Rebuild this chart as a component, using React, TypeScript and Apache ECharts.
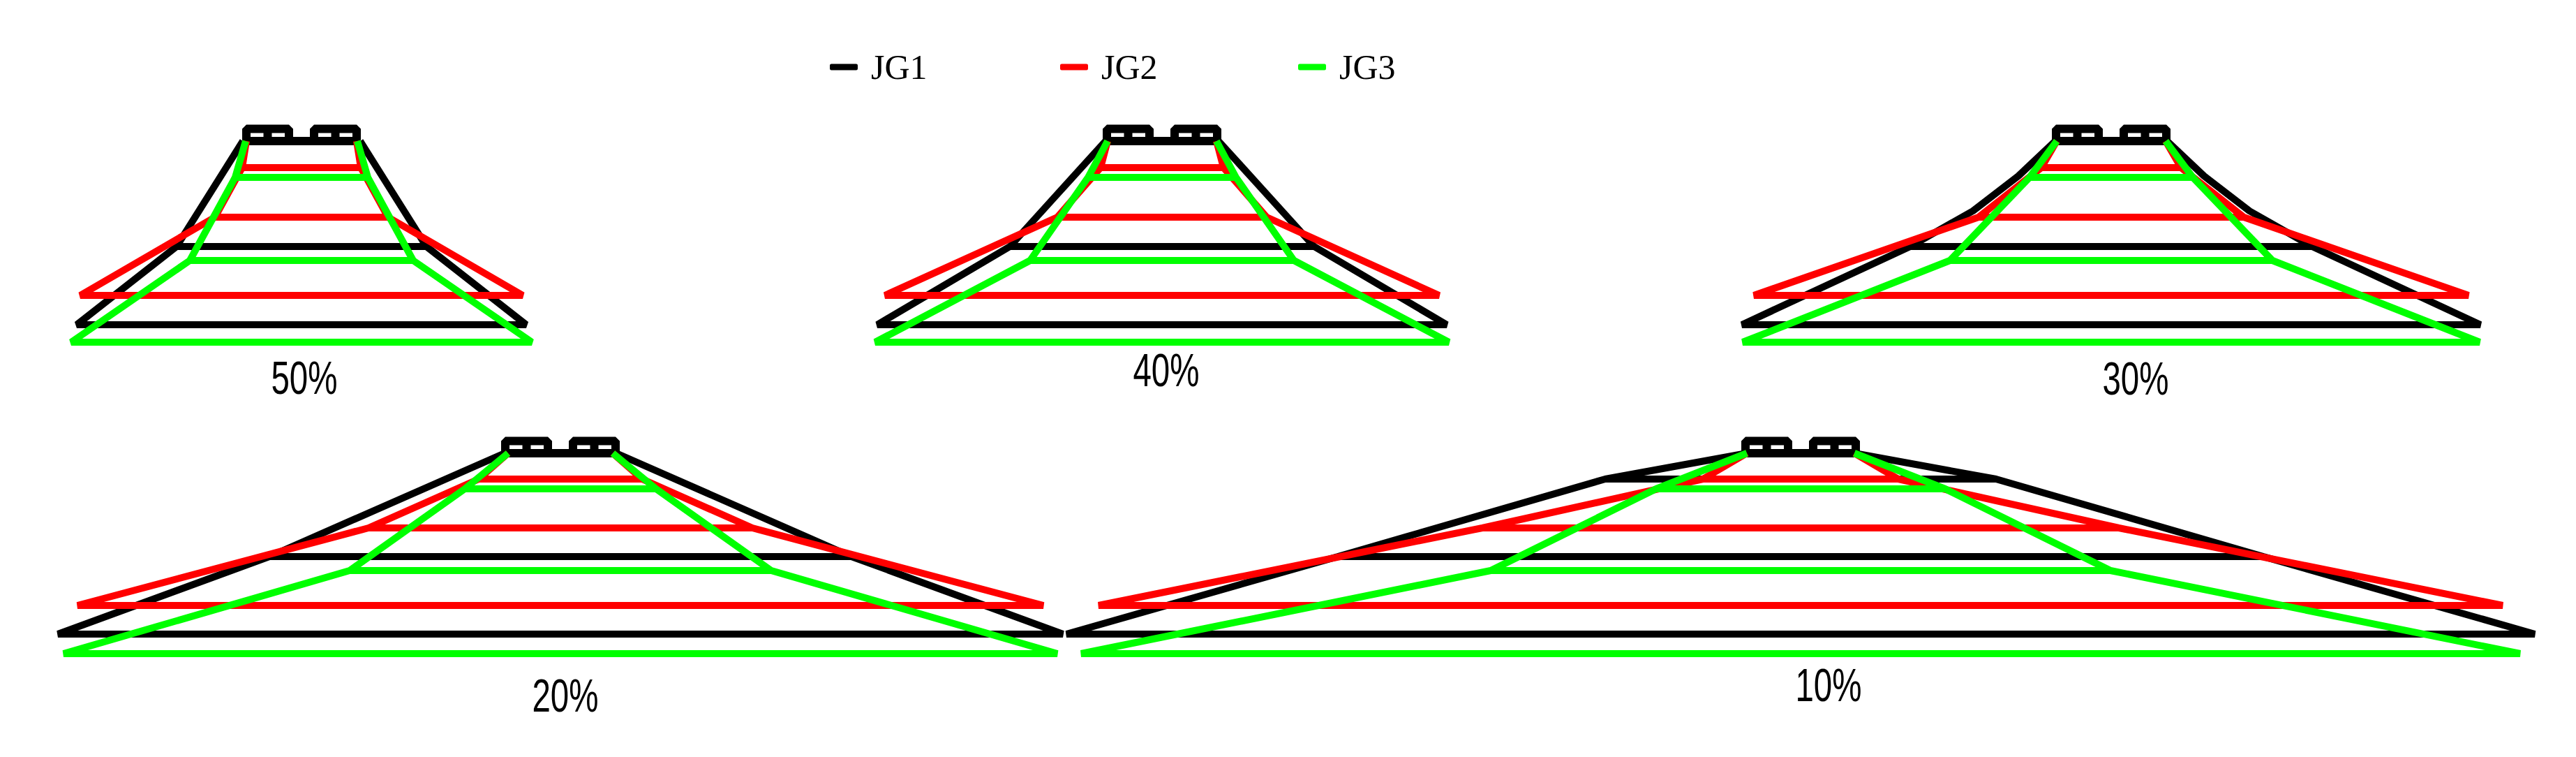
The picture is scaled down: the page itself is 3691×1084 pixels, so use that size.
import React, { useEffect, useRef } from "react";
import * as echarts from "echarts";

// ---------------- data ----------------
const panelLabels = ["50%", "40%", "30%", "20%", "10%"];
const seriesNames = ["JG1", "JG2", "JG3"];
const seriesColors = ["#000000", "#ff0000", "#00ff00"];

// profile vertices: [depth below footing base (m), half width (m), bench line (1) or not (0)]
const jg1_50 = [[0, 8.4, 0], [15.1, 17.9, 1], [26.3, 32.2, 1]];
const jg2_50 = [[0, 7.9, 0], [3.8, 8.5, 1], [10.9, 12.4, 1], [22.1, 31.7, 1]];
const jg3_50 = [[0, 8.0, 0], [5.2, 9.5, 1], [17.1, 16.0, 1], [28.8, 33.0, 1]];

const jg1_40 = [[0, 8.1, 0], [15.1, 21.8, 1], [26.3, 40.8, 1]];
const jg2_40 = [[0, 7.8, 0], [3.8, 8.8, 1], [10.9, 15.0, 1], [22.1, 39.7, 1]];
const jg3_40 = [[0, 7.8, 0], [5.2, 10.6, 1], [17.1, 18.9, 1], [28.8, 41.1, 1]];

const jg1_30 = [[0, 8.0, 0], [5.0, 13.3, 0], [10.0, 19.8, 0], [15.1, 28.8, 1], [26.3, 52.9, 1]];
const jg2_30 = [[0, 7.8, 0], [3.8, 10.0, 1], [10.9, 19.0, 1], [22.1, 51.2, 1]];
const jg3_30 = [[0, 7.8, 0], [5.2, 11.7, 1], [17.1, 23.1, 1], [28.8, 52.8, 1]];

const jg1_20 = [[0, 8.0, 0], [14.8, 41.7, 1], [25.9, 72.0, 1]];
const jg2_20 = [[0, 7.5, 0], [3.7, 11.7, 1], [10.7, 27.5, 1], [21.8, 69.2, 1]];
const jg3_20 = [[0, 7.5, 0], [5.1, 13.7, 1], [16.8, 30.2, 1], [28.7, 71.2, 1]];

const jg1_10 = [[0, 7.7, 0], [3.7, 28.0, 1], [14.8, 66.3, 1], [25.9, 105.2, 1]];
const jg2_10 = [[0, 7.7, 0], [3.7, 14.0, 1], [10.7, 45.6, 1], [21.8, 100.6, 1]];
const jg3_10 = [[0, 7.7, 0], [5.1, 20.7, 1], [16.8, 44.4, 1], [28.7, 103.1, 1]];

const profiles: Record<string, number[][][]> = {
  "50%": [jg1_50, jg2_50, jg3_50],
  "40%": [jg1_40, jg2_40, jg3_40],
  "30%": [jg1_30, jg2_30, jg3_30],
  "20%": [jg1_20, jg2_20, jg3_20],
  "10%": [jg1_10, jg2_10, jg3_10],
};

// twin footings (m): outlines, inner dividers, base line
const footingLeft = [[-7.9, 0], [-7.9, -1.75], [-1.8, -1.75], [-1.8, 0]];
const footingRight = [[1.8, 0], [1.8, -1.75], [7.9, -1.75], [7.9, 0]];
const footingDividers = [-4.85, 4.85];
const footingTop = -1.75;
const footingBase = [[-7.9, 0], [7.9, 0]];

// ---------------- layout ----------------
const W = 3691;
const H = 1084;
const K = 10; // px per metre
const layout = [
  { cx: 432, base: 202, half: 36, lx: 436, ly: 541 },
  { cx: 1665, base: 202, half: 45, lx: 1671, ly: 530 },
  { cx: 3025, base: 202, half: 56, lx: 3060, ly: 542 },
  { cx: 803, base: 649, half: 76, lx: 810, ly: 996 },
  { cx: 2580, base: 649, half: 108, lx: 2620, ly: 981 },
];
const yMin = -3;
const yMax = 30;
const legendLeft = [1184, 1514, 1855];

const GAP: any = ["-", "-"];

function profilePath(p: number[][]) {
  const pts: any[] = [];
  p.forEach(([d, h]) => pts.push([-h, d]));
  for (let i = p.length - 1; i >= 0; i--) pts.push([p[i][1], p[i][0]]);
  p.forEach(([d, h, b], i) => {
    if (b && i < p.length - 1) pts.push(GAP, [-h, d], [h, d]);
  });
  return pts;
}

function footingPath() {
  const pts: any[] = [];
  footingLeft.forEach((q) => pts.push(q));
  pts.push(GAP);
  footingRight.forEach((q) => pts.push(q));
  footingDividers.forEach((x) => pts.push(GAP, [x, footingTop], [x, 0]));
  pts.push(GAP);
  footingBase.forEach((q) => pts.push(q));
  return pts;
}

export default function App() {
  const ref = useRef<HTMLDivElement>(null);
  useEffect(() => {
    if (!ref.current) return;
    const chart = echarts.init(ref.current, undefined, { renderer: "svg" });
    const grid: any[] = [];
    const xAxis: any[] = [];
    const yAxis: any[] = [];
    const series: any[] = [];
    panelLabels.forEach((lab, i) => {
      const L = layout[i];
      grid.push({
        left: L.cx - L.half * K,
        top: L.base + yMin * K,
        width: 2 * L.half * K,
        height: (yMax - yMin) * K,
        containLabel: false,
      });
      xAxis.push({ type: "value", gridIndex: i, min: -L.half, max: L.half, show: false });
      yAxis.push({ type: "value", gridIndex: i, min: yMin, max: yMax, inverse: true, show: false });
      series.push({
        name: "footing",
        type: "line",
        xAxisIndex: i,
        yAxisIndex: i,
        data: footingPath(),
        showSymbol: false,
        symbol: "none",
        silent: true,
        connectNulls: false,
        z: 1,
        itemStyle: { color: "#000" },
        lineStyle: { color: "#000", width: 12 },
      });
      profiles[lab].forEach((p, s) => {
        series.push({
          name: seriesNames[s],
          type: "line",
          xAxisIndex: i,
          yAxisIndex: i,
          data: profilePath(p),
          showSymbol: false,
          symbol: "none",
          silent: true,
          connectNulls: false,
          z: 2 + s,
          itemStyle: { color: seriesColors[s] },
          lineStyle: { color: seriesColors[s], width: 10 },
        });
      });
    });
    chart.setOption({
      animation: false,
      backgroundColor: "#ffffff",
      grid,
      xAxis,
      yAxis,
      series,
      legend: seriesNames.map((n, i) => ({
        data: [n],
        left: legendLeft[i],
        top: 66,
        icon: "roundRect",
        itemWidth: 40,
        itemHeight: 9,
        selectedMode: false,
        textStyle: {
          fontFamily: "Liberation Serif",
          fontSize: 50,
          color: "#000",
          padding: [0, 0, 0, 14],
        },
      })),
      graphic: layout.map((L, i) => ({
        type: "text",
        x: L.lx,
        y: L.ly,
        scaleX: 0.72,
        silent: true,
        style: {
          text: panelLabels[i],
          fontSize: 66,
          fontFamily: "Liberation Sans",
          fill: "#000",
          align: "center",
          verticalAlign: "middle",
          textAlign: "center",
          textVerticalAlign: "middle",
        },
      })),
    });
    return () => chart.dispose();
  }, []);
  return (
    <div
      ref={ref}
      style={{ position: "fixed", left: 0, top: 0, width: W, height: H, background: "#fff" }}
    />
  );
}
